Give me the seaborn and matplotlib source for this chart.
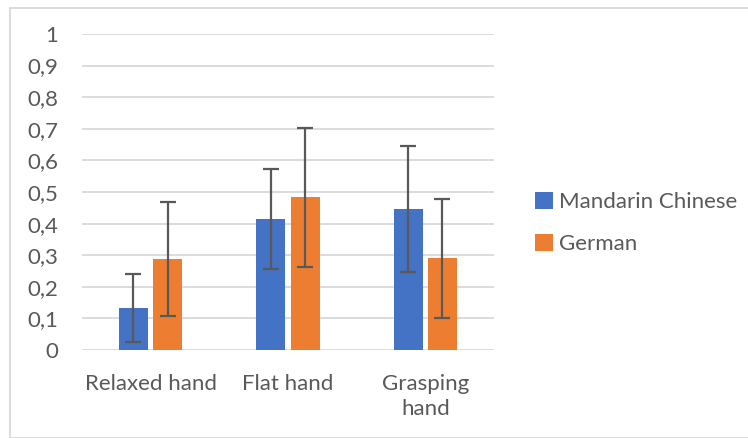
import matplotlib
matplotlib.use("Agg")
import matplotlib.pyplot as plt
import seaborn as sns
import pandas as pd
import numpy as np
from matplotlib.patches import Rectangle

categories = ["Relaxed hand", "Flat hand", "Grasping\nhand"]
series_names = ["Mandarin Chinese", "German"]
mandarin = [0.134, 0.415, 0.446]
german = [0.287, 0.484, 0.290]
mandarin_err = [0.108, 0.159, 0.199]
german_err = [0.180, 0.220, 0.189]
yticks = [0, 0.1, 0.2, 0.3, 0.4, 0.5, 0.6, 0.7, 0.8, 0.9, 1.0]
ytick_labels = ["0", "0,1", "0,2", "0,3", "0,4", "0,5", "0,6", "0,7", "0,8", "0,9", "1"]
colors = ["#4472C4", "#ED7D31"]

sns.set_theme(style="white")
plt.rcParams["font.family"] = ["Lato", "DejaVu Sans"]

df = pd.DataFrame({
    "category": categories * 2,
    "series": [series_names[0]] * 3 + [series_names[1]] * 3,
    "value": mandarin + german,
    "err": mandarin_err + german_err,
})

fig = plt.figure(figsize=(7.48, 4.38), dpi=100)
ax = fig.add_axes([0.1096, 0.2009, 0.6604 - 0.1096, 0.9224 - 0.2009])

sns.barplot(data=df, x="category", y="value", hue="series", order=categories,
            hue_order=series_names, palette=colors, width=0.50, gap=0.16,
            errorbar=None, ax=ax, saturation=1, edgecolor="none")

bars = [p for p in ax.patches if p.get_height() > 0]
for p in bars:
    cx = p.get_x() + p.get_width() / 2
    h = p.get_height()
    idx = int(np.argmin(np.abs(df["value"].values - h)))
    e = df["err"].values[idx]
    ax.errorbar(cx, h, yerr=e, fmt="none", ecolor="#595959", elinewidth=1.6,
                capsize=5.5, capthick=1.6, zorder=5)

ax.set_ylim(0, 1)
ax.set_xlim(-0.5, 2.5)
ax.set_yticks(yticks)
ax.set_yticklabels(ytick_labels)
ax.yaxis.grid(True, color="#d9d9d9", linewidth=1.3)
ax.set_axisbelow(True)
for s in ax.spines.values():
    s.set_visible(False)
ax.set_xlabel("")
ax.set_ylabel("")
ax.tick_params(axis="y", length=0, pad=17, labelsize=16, labelcolor="#595959")
ax.tick_params(axis="x", length=0, pad=17, labelsize=16, labelcolor="#595959")
for t in ax.get_xticklabels():
    t.set_linespacing(1.35)

leg = fig.legend(*ax.get_legend_handles_labels(), loc="center left",
                 bbox_to_anchor=(535 / 748, 1 - 223 / 438), frameon=False,
                 fontsize=16, handlelength=0.8, handleheight=0.8, handletextpad=0.3,
                 labelspacing=1.0, borderpad=0, borderaxespad=0)
ax.get_legend().remove()
for t in leg.get_texts():
    t.set_color("#595959")

fig.patches.append(Rectangle((10 / 748, 0), 1.2, 1 - 8 / 438, transform=fig.transFigure,
                             fill=False, edgecolor="#d9d9d9", linewidth=1.3))

fig.savefig("out.png", dpi=100)
